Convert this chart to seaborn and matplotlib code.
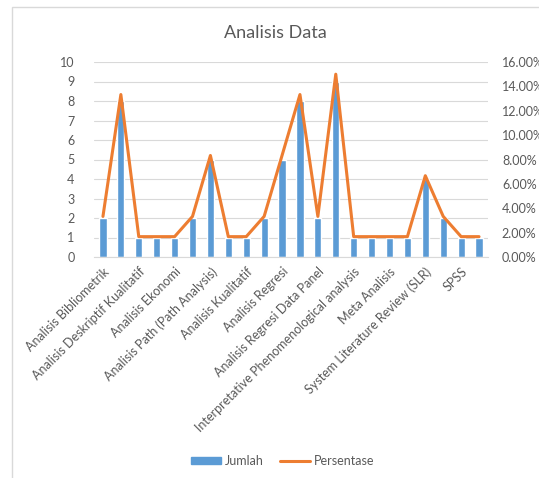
import pandas as pd
import matplotlib.pyplot as plt
import matplotlib.patches as mpatches
import seaborn as sns
from matplotlib.ticker import PercentFormatter

categories = [
    'Analisis Bibliometrik', 'Analisis Deskriptif',
    'Analisis Deskriptif Kualitatif', 'Analisis Deskriptif Kuantitatif',
    'Analisis Ekonomi', 'Analisis Isi',
    'Analisis Path (Path Analysis)', 'Analisis Komparatif',
    'Analisis Kualitatif', 'Analisis Kuantitatif',
    'Analisis Regresi', 'Analisis Regresi Berganda',
    'Analisis Regresi Data Panel', 'Analisis SEM',
    'Interpretative Phenomenological analysis', 'Kajian Pustaka',
    'Meta Analisis', 'Studi Kasus',
    'System Literature Review (SLR)', 'Analisis SWOT',
    'SPSS', 'Uji Beda',
]
jumlah = [2, 8, 1, 1, 1, 2, 5, 1, 1, 2, 5, 8, 2, 9, 1, 1, 1, 1, 4, 2, 1, 1]
persentase = [3.33, 13.33, 1.67, 1.67, 1.67, 3.33, 8.33, 1.67, 1.67, 3.33, 8.33,
              13.33, 3.33, 15.00, 1.67, 1.67, 1.67, 1.67, 6.67, 3.33, 1.67, 1.67]
# Excel only shows every other category label
shown_labels = [c if i % 2 == 0 else '' for i, c in enumerate(categories)]

df = pd.DataFrame({'kategori': categories, 'jumlah': jumlah, 'persentase': persentase})

sns.set_style('white')
plt.rcParams['font.family'] = ['Lato', 'DejaVu Sans']
grey = '#595959'
blue = '#5B9BD5'
orange = '#ED7D31'

fig = plt.figure(figsize=(5.39, 4.78), dpi=100)
ax = fig.add_axes([94 / 539, (478 - 257) / 478, (488 - 94) / 539, (257 - 62) / 478])

sns.barplot(data=df, x='kategori', y='jumlah', color=blue, width=0.4,
            saturation=1, ax=ax, label='Jumlah', zorder=2)
ax.set_ylim(0, 10)
ax.set_yticks(range(0, 11))
ax.set_xlim(-0.5, len(categories) - 0.5)
ax.grid(axis='y', color='#D9D9D9', linewidth=0.8, zorder=0)
ax.set_axisbelow(True)
for s in ['top', 'right', 'left']:
    ax.spines[s].set_visible(False)
ax.spines['bottom'].set_color('#D9D9D9')
ax.set_xlabel('')
ax.set_ylabel('')
ax.set_xticks(range(len(categories)))
ax.set_xticklabels(shown_labels, rotation=45, ha='right', va='top',
                   rotation_mode='anchor', fontsize=9, color=grey)
ax.tick_params(axis='x', length=0, pad=6)
ax.tick_params(axis='y', length=0, labelsize=9, labelcolor=grey, pad=14)

ax2 = ax.twinx()
sns.lineplot(data=df, x='kategori', y='persentase', sort=False, color=orange,
             linewidth=2.2, ax=ax2, label='Persentase')
ax2.set_ylim(0, 16)
ax2.set_yticks(range(0, 17, 2))
ax2.yaxis.set_major_formatter(PercentFormatter(decimals=2))
ax2.tick_params(axis='y', length=0, labelsize=9, labelcolor=grey, pad=10)
ax2.set_ylabel('')
ax2.set_xlabel('')
for s in ax2.spines.values():
    s.set_visible(False)
if ax2.get_legend():
    ax2.get_legend().remove()
if ax.get_legend():
    ax.get_legend().remove()

fig.text(0.5 * (12 + 539) / 539, 1 - 33 / 478, 'Analisis Data', ha='center', va='center',
         fontsize=13, color=grey)

handles = [mpatches.Patch(color=blue, label='Jumlah'),
           plt.Line2D([], [], color=orange, linewidth=2.2, label='Persentase')]
fig.legend(handles=handles, loc='center', bbox_to_anchor=(283 / 539, 1 - 461 / 478),
           ncol=2, frameon=False, fontsize=9, labelcolor=grey,
           handlelength=2.4, handleheight=0.5, handletextpad=0.3, columnspacing=1.3)

fig.patches.append(mpatches.Rectangle((12 / 539, -0.02), 1.0, 1 - 7 / 478 + 0.02,
                                      transform=fig.transFigure, fill=False,
                                      edgecolor='#D9D9D9', linewidth=1))

fig.savefig('out.png', dpi=100)
